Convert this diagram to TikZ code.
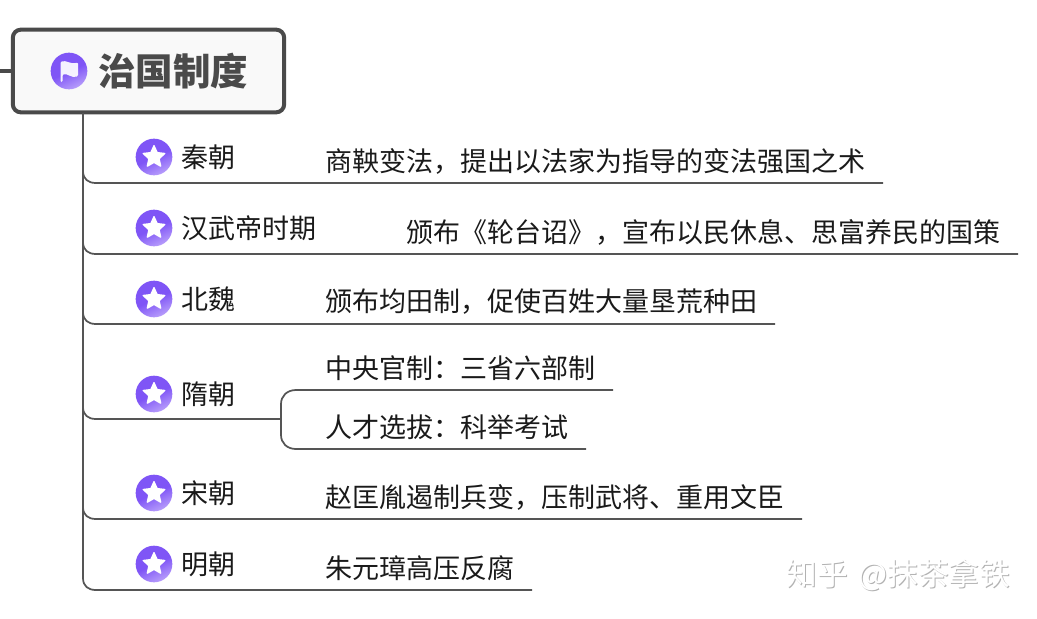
\documentclass[tikz,border=0pt]{standalone}
\usepackage{fontspec}
\setmainfont{Noto Sans CJK SC}
\usetikzlibrary{shapes.geometric}
\definecolor{linegray}{HTML}{555555}
\definecolor{rootline}{HTML}{4A4A4A}
\definecolor{rootfill}{HTML}{F9F9F9}
\definecolor{purpleA}{HTML}{7F55F6}
\definecolor{purpleB}{HTML}{B79DFB}
\definecolor{inkc}{HTML}{1A1A1A}
\tikzset{
  every node/.style={inner sep=0pt,outer sep=0pt},
  rootbox/.style={draw=rootline,line width=3pt,fill=rootfill,rounded corners=6pt,minimum width=203.5pt,minimum height=62pt},
  roottext/.style={font=\fontsize{28.1pt}{30pt}\selectfont\bfseries,text=rootline,anchor=west},
  topictext/.style={font=\fontsize{20.25pt}{24pt}\selectfont,text=inkc,anchor=west},
  badge/.style={circle,minimum size=27.5pt,top color=purpleA,bottom color=purpleB,middle color=purpleA,shading angle=25},
  starmark/.style={star,star points=5,star point ratio=2.1,minimum size=17pt,fill=white,draw=white,line join=round,line width=1pt},
  branch/.style={draw=linegray,line width=1.3pt},
  trunkline/.style={draw=linegray,line width=1.8pt},
  stubline/.style={draw=rootline,line width=2.6pt},
  wmark/.style={anchor=west,font=\fontsize{23pt}{26pt}\selectfont}
}
\begin{document}
\begin{tikzpicture}[x=0.75pt,y=-0.75pt]
\useasboundingbox (0,0) rectangle (1037,618);
% root
\node[rootbox] (root) at (148.5,71) {};
\coordinate (stub) at (0,71);
\draw[stubline] (stub) -- (root.west);
\node[badge] (flagicon) at (69,71) {};
\fill[white,opacity=.92,rounded corners=.8pt] (60.5,62) .. controls (66,59.5) and (71,65) .. (78,62.5) -- (78,76) .. controls (72,79) and (67,72.5) .. (62.5,75) -- (62.5,82) -- (60.5,82) -- cycle;
\node[roottext] (title) at (98.5,71) {治国制度};
% trunk
\coordinate (top) at (83,113);
\coordinate (t6) at (83,578);
\coordinate (e1) at (883,183);
\coordinate (e2) at (1018,254);
\coordinate (e3) at (775,324);
\coordinate (s4) at (280,419);
\coordinate (e5) at (802,519);
\coordinate (e6) at (532,590);
\coordinate (e41) at (613,390);
\coordinate (e42) at (586,449);
\draw[trunkline] (top) -- (t6);
\foreach \e/\y in {e1/183,e2/254,e3/324,s4/419,e5/519,e6/590}{
  \draw[branch] (83,\y-12) .. controls (83,\y-4) and (88,\y) .. (96,\y) -- (\e);
}
\draw[branch] (e41) -- (296,390) .. controls (287,390) and (281,396) .. (281,404) -- (281,435) .. controls (281,443) and (287,449) .. (296,449) -- (e42);
% topics
\foreach \n/\y/\t in {a/157/秦朝,b/228/汉武帝时期,c/299/北魏,d/394/隋朝,e/493/宋朝,f/564/明朝}{
  \node[badge] (icon\n) at (154,\y) {};
  \node[starmark] (star\n) at (154,\y) {};
  \node[topictext] (topic\n) at (181,\y) {\t};
}
% details
\node[topictext] (d1) at (325,161) {商鞅变法，提出以法家为指导的变法强国之术};
\node[topictext] (d2) at (406.5,232) {颁布《轮台诏》，宣布以民休息、思富养民的国策};
\node[topictext] (d3) at (325,302) {颁布均田制，促使百姓大量垦荒种田};
\node[topictext] (d41) at (325,368) {中央官制：三省六部制};
\node[topictext] (d42) at (325,427) {人才选拔：科举考试};
\node[topictext] (d5) at (325,497) {赵匡胤遏制兵变，压制武将、重用文臣};
\node[topictext] (d6) at (325,568) {朱元璋高压反腐};
% watermark
\node[wmark,text=gray!60] (wm) at (787.5,575.5) {知乎\hspace{8pt}@抹茶拿铁};
\node[wmark,text=white] (wm2) at (786.5,574.5) {知乎\hspace{8pt}@抹茶拿铁};
\end{tikzpicture}
\end{document}
